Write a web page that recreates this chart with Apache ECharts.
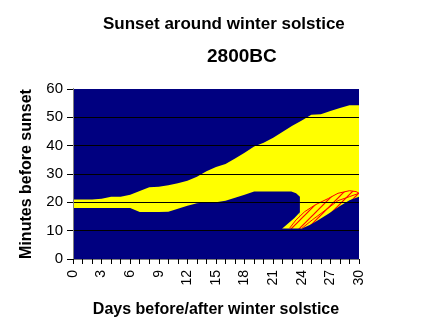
<!DOCTYPE html>
<html><head><meta charset="utf-8">
<script src="https://cdn.jsdelivr.net/npm/echarts@6/dist/echarts.min.js"></script>
<style>html,body{margin:0;padding:0;background:#fff}#c{width:422px;height:332px}</style>
</head><body><div id="c"></div>
<script>
// Upper edge of the yellow band (minutes) for each day
const days = [0,1,2,3,4,5,6,7,8,9,10,11,12,13,14,15,16,17,18,19,20,21,22,23,24,25,26,27,28,29,30];
const upperMins = [21,21,21,21.3,22,22,22.7,24,25.3,25.5,26,26.7,27.6,29,31,32.5,33.5,35.5,37.5,39.7,41,42.8,44.9,47,48.9,50.9,51.1,52.2,53.3,54.3,54.3];
// Lower edge of the yellow band (top of the navy pocket)
const lowerDays = [0,1,2,3,4,5,6,7,8,9,10,11,12,13,14,15,16,17,18,19,20,21,22,22.9,23.4,23.8,23.8];
const lowerMins = [18,18,18,18,18,18,18,16.6,16.6,16.6,16.7,17.7,18.8,19.7,20,20,20.6,21.6,22.7,23.8,23.8,23.8,23.8,23.8,23.2,22,0];
// Yellow wedge below the pocket
const wedgeDays = [21.95,23.2,23.8,23.8];
const wedgeMins = [10.8,14.4,16.5,0];
// Hatched region upper outline
const hatchDays = [22.7,23.4,24.3,25.4,26.8,27.8,29.0,29.7,30];
const hatchMins = [10.8,13.8,16.7,19.1,21.4,23.2,24.1,23.8,23.2];
// Inner red outline of the hatched region
const redLowerDays = [24.0,25.1,26.5,27.8,29,30];
const redLowerMins = [10.8,13.8,17.3,20.6,22.0,23.2];
// Lower navy boundary on the right
const bottomDays = [21.5,24,25,26,27,28,29,30];
const bottomMins = [10.8,10.8,12.3,14.3,16.4,18.7,20.7,22];
// Tick settings
const yTickStep = 10, yMax = 60, xMax = 30, xLabelEvery = 3;

const FONT = 'Liberation Sans, Arial, sans-serif';
const NAVY = '#000080', YELLOW = '#ffff00', RED = '#ff0000';
const pairs = (xs, ys) => xs.map((x, i) => [x, ys[i]]);

const pc = document.createElement('canvas');
pc.width = 8; pc.height = 8;
const g = pc.getContext('2d');
g.fillStyle = YELLOW; g.fillRect(0, 0, 8, 8);
g.strokeStyle = RED; g.lineWidth = 1.2;
[-8, 0, 8].forEach(o => { g.beginPath(); g.moveTo(o - 1, 9); g.lineTo(o + 9, -1); g.stroke(); });

function fill(data, color, extra) {
  return Object.assign({
    type: 'line', data, symbol: 'none', silent: true, animation: false,
    lineStyle: { opacity: 0 }, areaStyle: { color, opacity: 1, origin: 'start' }
  }, extra || {});
}

const chart = echarts.init(document.getElementById('c'), null, { renderer: 'canvas' });
chart.setOption({
  animation: false,
  backgroundColor: '#ffffff',
  title: [
    { text: 'Sunset around winter solstice', left: 98, top: 11,
      textStyle: { fontSize: 17, fontWeight: 'bold', color: '#000', fontFamily: FONT } },
    { text: '2800BC', left: 202, top: 42,
      textStyle: { fontSize: 19, fontWeight: 'bold', color: '#000', fontFamily: FONT } }
  ],
  grid: { left: 73, top: 89, width: 286, height: 170, show: true, backgroundColor: NAVY, borderWidth: 0 },
  xAxis: [{
    type: 'value', min: 0, max: xMax, interval: 1, z: 5,
    axisLine: { show: true, lineStyle: { color: '#000', width: 1 } },
    axisTick: { show: true, length: 5, lineStyle: { color: '#000' } },
    axisLabel: { rotate: 90, margin: 11, fontSize: 14, color: '#000', fontFamily: FONT,
      formatter: v => (v % xLabelEvery === 0 ? String(v) : '') },
    splitLine: { show: false },
    name: 'Days before/after winter solstice', nameLocation: 'middle', nameGap: 43,
    nameTextStyle: { fontSize: 16, fontWeight: 'bold', color: '#000', fontFamily: FONT }
  }, {
    type: 'value', min: 0, max: xMax, position: 'top', z: 5,
    axisLine: { show: true, lineStyle: { color: '#808080' } },
    axisTick: { show: false }, axisLabel: { show: false }, splitLine: { show: false }
  }],
  yAxis: [{
    type: 'value', min: 0, max: yMax, interval: yTickStep, z: 5,
    axisLine: { show: true, lineStyle: { color: '#000', width: 1 } },
    axisTick: { show: true, length: 6, lineStyle: { color: '#000' } },
    axisLabel: { margin: 10, fontSize: 15, color: '#000', fontFamily: FONT },
    splitLine: { show: true, showMinLine: false, showMaxLine: false, lineStyle: { color: '#000', width: 1 } },
    name: 'Minutes before sunset', nameLocation: 'middle', nameGap: 38,
    nameTextStyle: { fontSize: 16, fontWeight: 'bold', color: '#000', fontFamily: FONT }
  }, {
    type: 'value', min: 0, max: yMax, position: 'right', z: 5,
    axisLine: { show: true, lineStyle: { color: '#808080' } },
    axisTick: { show: false }, axisLabel: { show: false }, splitLine: { show: false }
  }],
  series: [
    fill(pairs(days, upperMins), YELLOW),
    fill(pairs(lowerDays, lowerMins), NAVY),
    fill(pairs(wedgeDays, wedgeMins), YELLOW),
    fill(pairs(hatchDays, hatchMins), { image: pc, repeat: 'repeat' },
      { lineStyle: { color: RED, width: 1 } }),
    fill(pairs(bottomDays, bottomMins), NAVY),
    { type: 'line', data: pairs(redLowerDays, redLowerMins), symbol: 'none', silent: true,
      animation: false, lineStyle: { color: RED, width: 1 } }
  ]
});
</script></body></html>
